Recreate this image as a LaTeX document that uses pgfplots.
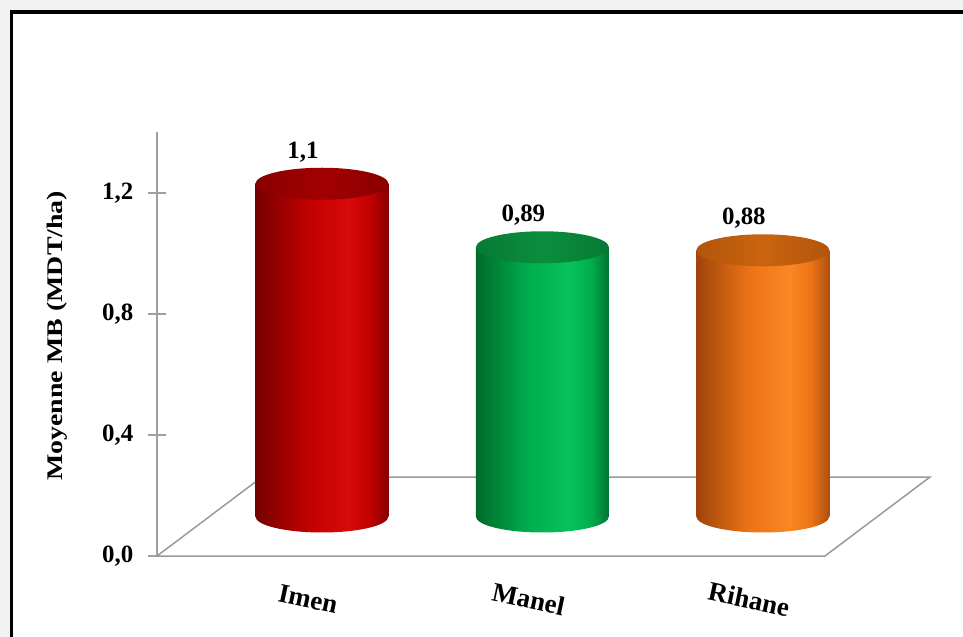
\documentclass[border=0pt]{standalone}
\usepackage{fontspec}
\setmainfont{Liberation Serif}
\usepackage{pgfplots}
\pgfplotsset{compat=1.18}

\definecolor{bggray}{HTML}{F2F2F2}
\definecolor{axgray}{HTML}{A0A0A0}
\definecolor{floorgray}{HTML}{9A9A9A}
% red
\definecolor{rL}{HTML}{760000}
\definecolor{rM}{HTML}{C20000}
\definecolor{rH}{HTML}{D80A0A}
\definecolor{rR}{HTML}{860000}
\definecolor{rT}{HTML}{A20000}
\definecolor{rTe}{HTML}{8A0000}
% green
\definecolor{gL}{HTML}{006A2A}
\definecolor{gM}{HTML}{00AE4E}
\definecolor{gH}{HTML}{06C25C}
\definecolor{gR}{HTML}{007532}
\definecolor{gT}{HTML}{0A8E3E}
\definecolor{gTe}{HTML}{077A34}
% orange
\definecolor{oL}{HTML}{A0440A}
\definecolor{oM}{HTML}{EC7416}
\definecolor{oH}{HTML}{FA8624}
\definecolor{oR}{HTML}{AE500E}
\definecolor{oT}{HTML}{CA640E}
\definecolor{oTe}{HTML}{B2550C}

\pgfdeclarehorizontalshading{bodyR}{100bp}{color(0bp)=(rL); color(25bp)=(rL); color(45bp)=(rM); color(60bp)=(rH); color(68bp)=(rM); color(75bp)=(rR); color(100bp)=(rR)}
\pgfdeclarehorizontalshading{bodyG}{100bp}{color(0bp)=(gL); color(25bp)=(gL); color(45bp)=(gM); color(60bp)=(gH); color(68bp)=(gM); color(75bp)=(gR); color(100bp)=(gR)}
\pgfdeclarehorizontalshading{bodyO}{100bp}{color(0bp)=(oL); color(25bp)=(oL); color(45bp)=(oM); color(60bp)=(oH); color(68bp)=(oM); color(75bp)=(oR); color(100bp)=(oR)}
\pgfdeclarehorizontalshading{topR}{100bp}{color(0bp)=(rTe); color(25bp)=(rTe); color(50bp)=(rT); color(75bp)=(rTe); color(100bp)=(rTe)}
\pgfdeclarehorizontalshading{topG}{100bp}{color(0bp)=(gTe); color(25bp)=(gTe); color(50bp)=(gT); color(75bp)=(gTe); color(100bp)=(gTe)}
\pgfdeclarehorizontalshading{topO}{100bp}{color(0bp)=(oTe); color(25bp)=(oTe); color(50bp)=(oT); color(75bp)=(oTe); color(100bp)=(oTe)}

\newcommand{\ellmark}[2]{%
  \pgfdeclareplotmark{#1}{%
    \pgfpathellipse{\pgfpointorigin}{\pgfqpoint{66.5bp}{0bp}}{\pgfqpoint{0bp}{16bp}}%
    \pgfshadepath{#2}{0}\pgfusepath{discard}}}
\ellmark{baseR}{bodyR}\ellmark{baseG}{bodyG}\ellmark{baseO}{bodyO}
\ellmark{capR}{topR}\ellmark{capG}{topG}\ellmark{capO}{topO}

\newcommand{\lblfont}{\fontsize{25}{28}\selectfont\bfseries}
\newcommand{\catfont}{\fontsize{27}{30}\selectfont\bfseries}

\pgfplotsset{
  cyl/.style={ybar, bar width=133bp, bar shift=0pt, draw=none,
    shade, shading=#1, shading angle=0,
    nodes near coords={\pgfmathprintnumber[assume math mode=true, use comma]{\pgfplotspointmeta}},
    every node near coord/.append style={font=\lblfont, text=black, anchor=center,
      xshift=-19bp, yshift=32bp}},
}

\begin{document}
\begin{tikzpicture}
\useasboundingbox (0,0) rectangle (963bp,637bp);
\fill[bggray] (0,0) rectangle (963bp,637bp);
\fill[white] (11.5bp,-5bp) rectangle (970bp,625bp);
\draw[black, line width=3.5bp] (11.5bp,-10bp) -- (11.5bp,625bp) -- (975bp,625bp);

% frame axis: y axis, floor, category labels
\begin{axis}[
    at={(157bp,81bp)}, anchor=south west,
    scale only axis, width=668bp, height=423.5bp,
    xmin=-0.51, xmax=2.52, ymin=0, ymax=1.4,
    clip=false,
    axis y line*=left, axis x line*=bottom,
    x axis line style={draw=none},
    y axis line style={draw=axgray, line width=2bp},
    xtick={0,1,2}, xticklabels={Imen,Manel,Rihane},
    xtick style={draw=none},
    ytick={0,0.4,0.8,1.2}, yticklabels={{0,0},{0,4},{0,8},{1,2}},
    ytick style={draw=axgray, line width=1.5bp},
    tick align=center, major tick length=17bp,
    ticklabel style={font=\lblfont},
    yticklabel style={inner sep=0pt, xshift=-15bp},
    xticklabel style={font=\catfont, rotate=-12, anchor=center, xshift=45bp, yshift=-26bp},
    every axis y label/.style={at={(axis description cs:-0.149,0.52)},
      anchor=center, rotate=90},
    ylabel={\scalebox{1}[0.8]{\fontsize{28}{30}\selectfont\bfseries Moyenne MB (MDT/ha)}},
]
\addplot[draw=floorgray, line width=1.5bp, fill=white]
  coordinates {(-0.51,0) (2.52,0) (2.996,0.261) (-0.034,0.261)} -- cycle;
\end{axis}

% cylinders at mid depth
\begin{axis}[
    at={(209.5bp,120.5bp)}, anchor=south west,
    scale only axis, width=668bp, height=423.5bp,
    xmin=-0.51, xmax=2.52, ymin=0, ymax=1.4,
    clip=false, hide axis,
]
\addplot[only marks, mark=baseR] coordinates {(0,0)};
\addplot[cyl=bodyR] coordinates {(0,1.1)};
\addplot[only marks, mark=capR] coordinates {(0,1.1)};

\addplot[only marks, mark=baseG] coordinates {(1,0)};
\addplot[cyl=bodyG] coordinates {(1,0.89)};
\addplot[only marks, mark=capG] coordinates {(1,0.89)};

\addplot[only marks, mark=baseO] coordinates {(2,0)};
\addplot[cyl=bodyO] coordinates {(2,0.88)};
\addplot[only marks, mark=capO] coordinates {(2,0.88)};
\end{axis}
\end{tikzpicture}
\end{document}
